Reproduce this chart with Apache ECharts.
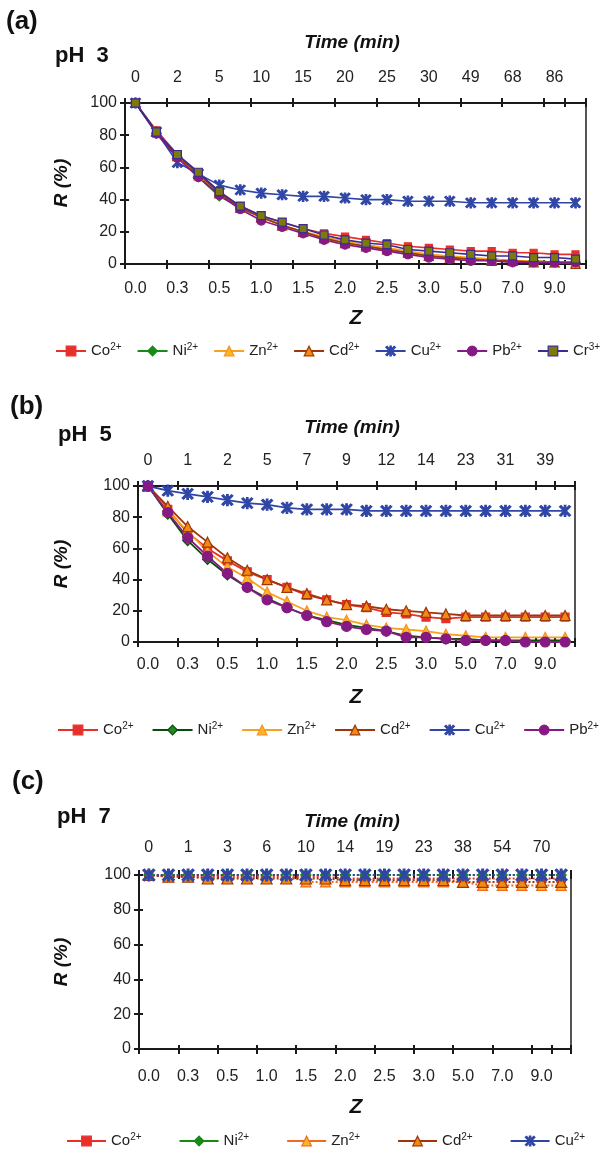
<!DOCTYPE html>
<html>
<head>
<meta charset="utf-8">
<title>R vs Z at pH 3, 5, 7</title>
<script src="https://cdn.jsdelivr.net/npm/echarts@6/dist/echarts.min.js"></script>
<style>
  html, body { margin: 0; padding: 0; background: #fff; }
  #chart { width: 612px; height: 1149px; }
</style>
</head>
<body>
<div id="chart"></div>
<script>
// tick labels (every other category carries a label)
var zTicks = ['0.0', '0.3', '0.5', '1.0', '1.5', '2.0', '2.5', '3.0', '5.0', '7.0', '9.0'];
var timeTicksA = ['0', '2', '5', '10', '15', '20', '25', '30', '49', '68', '86'];
var timeTicksB = ['0', '1', '2', '5', '7', '9', '12', '14', '23', '31', '39'];
var timeTicksC = ['0', '1', '3', '6', '10', '14', '19', '23', '38', '54', '70'];
var yTicks = [0, 20, 40, 60, 80, 100];

// (a) pH 3
var coA = [100, 83, 68, 56, 45, 36, 30, 26, 22, 19, 17, 15, 13, 11, 10, 9, 8, 8, 7, 7, 6, 6];
var niA = [100, 81, 66, 54, 42, 35, 29, 24, 20, 16, 13, 11, 9, 7, 5, 4, 3, 3, 2, 2, 1, 1];
var znA = [100, 82, 67, 55, 44, 35, 29, 24, 20, 17, 14, 12, 10, 8, 6, 5, 4, 3, 2, 2, 1, 1];
var cdA = [100, 82, 67, 56, 44, 35, 29, 24, 20, 16, 13, 11, 9, 7, 5, 4, 3, 2, 2, 1, 1, 0];
var cuA = [100, 82, 63, 56, 49, 46, 44, 43, 42, 42, 41, 40, 40, 39, 39, 39, 38, 38, 38, 38, 38, 38];
var pbA = [100, 81, 66, 54, 43, 34, 27, 23, 19, 15, 12, 10, 8, 6, 4, 3, 2, 2, 1, 1, 1, 1];
var crA = [100, 82, 68, 57, 45, 36, 30, 26, 22, 18, 15, 13, 12, 9, 8, 7, 6, 5, 5, 4, 4, 3];

// (b) pH 5
var coB = [100, 85, 70, 60, 52, 45, 40, 35, 30, 27, 24, 22, 19, 18, 16, 15, 16, 16, 16, 16, 16, 16];
var niB = [100, 82, 65, 53, 43, 35, 28, 22, 17, 14, 11, 9, 7, 4, 3, 2, 2, 1, 1, 1, 1, 1];
var znB = [100, 84, 71, 58, 48, 41, 32, 26, 20, 16, 14, 11, 9, 8, 7, 5, 4, 3, 3, 3, 3, 3];
var cdB = [100, 87, 74, 64, 54, 46, 40, 35, 31, 27, 24, 23, 21, 20, 19, 18, 17, 17, 17, 17, 17, 17];
var cuB = [100, 97, 95, 93, 91, 89, 88, 86, 85, 85, 85, 84, 84, 84, 84, 84, 84, 84, 84, 84, 84, 84];
var pbB = [100, 83, 67, 55, 44, 35, 27, 22, 17, 13, 10, 8, 7, 3, 3, 2, 1, 1, 1, 0, 0, 0];

// (c) pH 7
var coC = [100, 99, 99, 99, 99, 99, 99, 99, 99, 99, 98, 98, 98, 98, 98, 98, 98, 98, 98, 98, 98, 98];
var niC = [100, 100, 100, 100, 100, 100, 100, 100, 100, 100, 100, 100, 100, 100, 100, 100, 100, 100, 100, 100, 100, 100];
var znC = [100, 100, 100, 100, 100, 100, 100, 100, 96, 96, 96, 96, 96, 96, 96, 96, 96, 94, 94, 94, 94, 94];
var cdC = [100, 99, 99, 98, 98, 98, 98, 98, 98, 98, 97, 97, 97, 97, 97, 97, 96, 96, 96, 96, 96, 96];
var cuC = [100, 100, 100, 100, 100, 100, 100, 100, 100, 100, 100, 100, 100, 100, 100, 100, 100, 100, 100, 100, 100, 100];

var FONT = '"Liberation Sans", Arial, Helvetica, sans-serif';
var INK = '#1a1a1a';
var STAR = 'path://M-1,-8L1,-8L1,8L-1,8Z' +
    'M-6.9,-6.2L-5.1,-7.8L6.9,6.2L5.1,7.8Z' +
    'M6.9,-6.2L-5.1,7.8L-6.9,6.2L5.1,-7.8Z';

var ion = {
    co: {line: '#e8302a', symbol: 'rect', size: 8, fill: '#e8302a', border: '#e8302a'},
    ni: {line: '#178a17', symbol: 'diamond', size: 10, fill: '#178a17', border: '#178a17'},
    zn: {line: '#f7a11e', symbol: 'triangle', size: 10, fill: '#fbb626', border: '#f7901e'},
    cd: {line: '#9e3608', symbol: 'triangle', size: 11, fill: '#f08a12', border: '#9e3608'},
    cu: {line: '#2f46a6', symbol: STAR, size: 12, fill: '#2f46a6', border: '#2f46a6'},
    pb: {line: '#861a84', symbol: 'circle', size: 10, fill: '#861a84', border: '#861a84'},
    cr: {line: '#3a2b97', symbol: 'rect', size: 9, fill: '#7d7a0c', border: '#3a2b97'}
};
var niDark = {line: '#0c4a0c', symbol: 'diamond', size: 10, fill: '#1d8a1d', border: '#0c4a0c'};
var znRed = {line: '#f26a1d', symbol: 'triangle', size: 10, fill: '#fbb626', border: '#f26a1d'};

var grids = [], xAxes = [], yAxes = [], series = [];

function spread(ticks) {
    var out = [], i;
    for (i = 0; i < ticks.length; i++) {
        out.push(ticks[i]);
        out.push('');
    }
    return out;
}

function catAxis(g, pos, data, margin, inner, showLine) {
    return {
        gridIndex: g, type: 'category', position: pos, data: data, boundaryGap: true,
        axisLine: {show: showLine, onZero: false, lineStyle: {color: INK, width: 2}},
        axisTick: {show: true, interval: 1, inside: inner, length: inner ? 4 : 5,
            lineStyle: {color: INK, width: 2}},
        axisLabel: {show: !inner, interval: 0, margin: margin, fontSize: 16,
            fontFamily: FONT, color: '#222'},
        splitLine: {show: false}
    };
}

function valAxis(g, inner) {
    return {
        gridIndex: g, type: 'value', position: 'left',
        min: yTicks[0], max: yTicks[yTicks.length - 1], interval: yTicks[1] - yTicks[0],
        axisLine: {show: !inner, onZero: false, lineStyle: {color: INK, width: 2}},
        axisTick: {show: true, inside: inner, length: inner ? 4 : 5, lineStyle: {color: INK, width: 2}},
        axisLabel: {show: !inner, margin: 8, fontSize: 16, fontFamily: FONT, color: '#222'},
        splitLine: {show: false}
    };
}

function addPanel(p) {
    var g = grids.length, xi = xAxes.length, yi = yAxes.length,
        zData = spread(zTicks), tData = spread(p.time);

    grids.push(p.grid);
    xAxes.push(catAxis(g, 'bottom', zData, p.zMargin, false, true));
    xAxes.push(catAxis(g, 'bottom', zData, 0, true, false));
    xAxes.push(catAxis(g, 'top', tData, p.tMargin, false, p.topLine));
    xAxes.push(catAxis(g, 'top', tData, 0, true, false));
    yAxes.push(valAxis(g, false));
    yAxes.push(valAxis(g, true));
    // right frame
    yAxes.push({
        gridIndex: g, type: 'value', position: 'right', min: 0, max: 100,
        axisLine: {show: true, onZero: false, lineStyle: {color: '#555', width: 2}},
        axisTick: {show: false}, axisLabel: {show: false}, splitLine: {show: false}
    });

    p.lines.forEach(function (l) {
        var st = l[2];
        series.push({
            type: 'line', name: l[0], data: l[1],
            xAxisIndex: xi, yAxisIndex: yi,
            symbol: st.symbol, symbolSize: Math.round(st.size * p.markScale),
            lineStyle: {color: st.line, width: p.lineWidth, type: p.lineType || 'solid'},
            itemStyle: {color: st.fill, borderColor: st.border, borderWidth: 1.2},
            emphasis: {disabled: true}
        });
    });
}

addPanel({
    grid: {left: 125, top: 103, width: 461, height: 161},
    time: timeTicksA, topLine: true, zMargin: 17, tMargin: 17, lineWidth: 1.6, markScale: 0.85,
    lines: [['Co2+', coA, ion.co], ['Ni2+', niA, ion.ni], ['Zn2+', znA, ion.zn], ['Cd2+', cdA, ion.cd],
        ['Cu2+', cuA, ion.cu], ['Pb2+', pbA, ion.pb], ['Cr3+', crA, ion.cr]]
});
addPanel({
    grid: {left: 138, top: 486, width: 437, height: 156},
    time: timeTicksB, topLine: true, zMargin: 15, tMargin: 17, lineWidth: 1.8, markScale: 0.95,
    lines: [['Co2+', coB, ion.co], ['Ni2+', niB, niDark], ['Zn2+', znB, ion.zn], ['Cd2+', cdB, ion.cd],
        ['Cu2+', cuB, ion.cu], ['Pb2+', pbB, ion.pb]]
});
addPanel({
    grid: {left: 139, top: 875, width: 432, height: 174},
    time: timeTicksC, topLine: false, zMargin: 20, tMargin: 19, lineWidth: 2, lineType: 'dotted',
    markScale: 1,
    lines: [['Co2+', coC, ion.co], ['Ni2+', niC, ion.ni], ['Zn2+', znC, znRed], ['Cd2+', cdC, ion.cd],
        ['Cu2+', cuC, ion.cu]]
});

function legendItem(name, st) {
    var item = {name: name};
    if (st) {
        item.itemStyle = {color: st.fill, borderColor: st.border, borderWidth: 1.2};
        item.lineStyle = {color: st.line, width: 2, type: 'solid'};
    }
    return item;
}

function legend(items, left, top, itemWidth, gap) {
    return {
        data: items, left: left, top: top, orient: 'horizontal', padding: 0,
        itemWidth: itemWidth, itemHeight: 12, itemGap: gap,
        lineStyle: {type: 'solid', width: 2},
        formatter: function (name) {
            var m = /^([A-Za-z]+)(\d\+)$/.exec(name);
            return m ? '{b|' + m[1] + '}{s|' + m[2] + '}' : name;
        },
        textStyle: {
            fontFamily: FONT, fontSize: 15, color: '#222',
            rich: {
                b: {fontFamily: FONT, fontSize: 15, color: '#222', lineHeight: 18},
                s: {fontFamily: FONT, fontSize: 10, color: '#222', lineHeight: 10, verticalAlign: 'top'}
            }
        }
    };
}

function txt(text, x, y, font, align, rot) {
    return {
        type: 'text', x: x, y: y, rotation: rot || 0,
        style: {
            text: text, font: font + ' ' + FONT, fill: '#111',
            textAlign: align, align: align, textVerticalAlign: 'middle', verticalAlign: 'middle'
        }
    };
}

var chart = echarts.init(document.getElementById('chart'), null, {renderer: 'canvas'});

chart.setOption({
    animation: false,
    backgroundColor: '#fff',
    grid: grids,
    xAxis: xAxes,
    yAxis: yAxes,
    series: series,
    legend: [
        legend([legendItem('Co2+', ion.co), legendItem('Ni2+', ion.ni), legendItem('Zn2+', ion.zn),
            legendItem('Cd2+', ion.cd), legendItem('Cu2+', ion.cu), legendItem('Pb2+', ion.pb),
            legendItem('Cr3+', ion.cr)], 55, 342, 30, 15),
        legend([legendItem('Co2+', ion.co), legendItem('Ni2+', niDark), legendItem('Zn2+', ion.zn),
            legendItem('Cd2+', ion.cd), legendItem('Cu2+', ion.cu), legendItem('Pb2+', ion.pb)],
            57, 721, 40, 18),
        legend([legendItem('Co2+', ion.co), legendItem('Ni2+', ion.ni), legendItem('Zn2+', znRed),
            legendItem('Cd2+', ion.cd), legendItem('Cu2+', ion.cu)], 66, 1132, 39, 37)
    ],
    graphic: [
        txt('(a)', 6, 22, 'bold 26px', 'left'),
        txt('pH  3', 55, 56, 'bold 22px', 'left'),
        txt('Time (min)', 352, 43, 'italic bold 19px', 'center'),
        txt('Z', 356, 318, 'italic bold 21px', 'center'),
        txt('R (%)', 62, 183, 'italic bold 19px', 'center', Math.PI / 2),

        txt('(b)', 10, 407, 'bold 26px', 'left'),
        txt('pH  5', 58, 435, 'bold 22px', 'left'),
        txt('Time (min)', 352, 428, 'italic bold 19px', 'center'),
        txt('Z', 356, 697, 'italic bold 21px', 'center'),
        txt('R (%)', 62, 564, 'italic bold 19px', 'center', Math.PI / 2),

        txt('(c)', 12, 782, 'bold 26px', 'left'),
        txt('pH  7', 57, 817, 'bold 22px', 'left'),
        txt('Time (min)', 352, 822, 'italic bold 19px', 'center'),
        txt('Z', 356, 1107, 'italic bold 21px', 'center'),
        txt('R (%)', 62, 962, 'italic bold 19px', 'center', Math.PI / 2)
    ]
});
</script>
</body>
</html>
